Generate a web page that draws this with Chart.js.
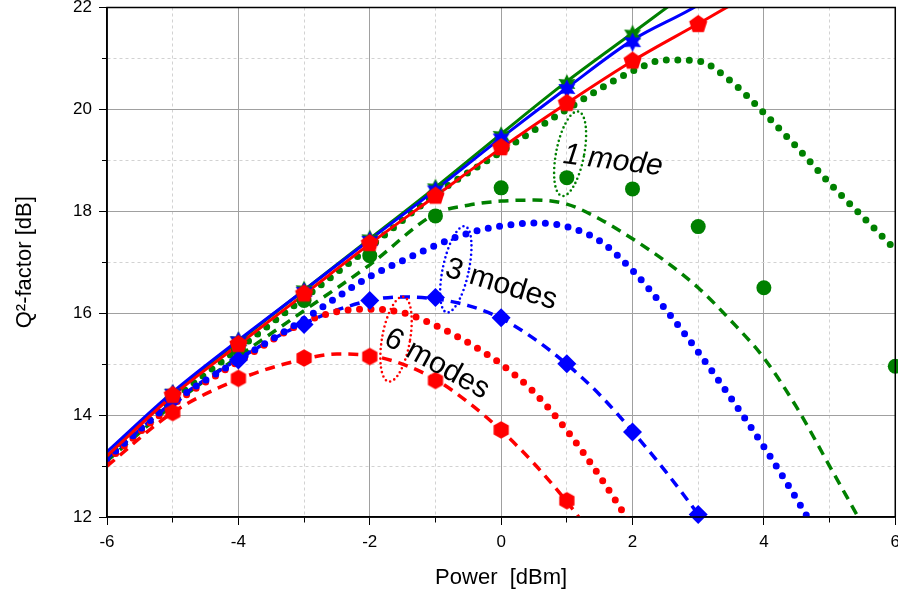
<!DOCTYPE html>
<html>
<head>
<meta charset="utf-8">
<script src="https://cdn.jsdelivr.net/npm/chart.js@4.4.1/dist/chart.umd.min.js"></script>
<style>
  html, body { margin: 0; padding: 0; background: #fff; overflow: hidden; width: 898px; height: 598px; }
  #myChart { display: block; margin-top: -2px; }
</style>
</head>
<body>
<canvas id="myChart" width="907" height="600"></canvas>
<script>
(function () {
  'use strict'

// ---- dados ----
var markX = [-5, -4, -3, -2, -1, 0, 1, 2, 3, 4, 5, 6]

var greenStarY   = [14.42, 15.45, 16.45, 17.45, 18.45, 19.48, 20.5, 21.47, null, null, null, null]
var blueStarY    = [14.42, 15.45, 16.42, 17.42, 18.41, 19.43, 20.4, 21.32, null, null, null, null]
var redPentY     = [14.39, 15.39, 16.38, 17.37, 18.3, 19.25, 20.12, 20.95, 21.67, null, null, null]
var greenCircY   = [14.35, 15.3, 16.25, 17.13, 17.91, 18.46, 18.66, 18.44, 17.7, 16.5, null, 14.96]
var blueDiamY    = [14.3, 15.08, 15.78, 16.25, 16.31, 15.91, 15.01, 13.67, 12.05, null, null, null]
var redHexY      = [14.05, 14.72, 15.12, 15.15, 14.68, 13.71, 12.32, null, null, null, null, null]

var solidX       = [-6, -5, -4, -3, -2, -1, 0, 1, 2, 3, 3.5, 4]
var greenSolidY  = [13.2, 14.42, 15.45, 16.45, 17.46, 18.47, 19.52, 20.55, 21.5, 22.45, 22.9, 23.3]
var blueSolidY   = [13.28, 14.45, 15.47, 16.45, 17.44, 18.42, 19.44, 20.42, 21.36, 22.05, 22.5, 22.9]
var redSolidY    = [13.2, 14.38, 15.38, 16.37, 17.36, 18.3, 19.24, 20.12, 20.95, 21.68, 22.05, 22.4]

var greenDotX    = [-6, -5, -4, -3, -2, -1, 0, 1, 2, 2.5, 3, 3.5, 4, 4.5, 5, 5.5, 6]
var greenDotY    = [13.15, 14.3, 15.3, 16.3, 17.3, 18.33, 19.17, 20.0, 20.75, 20.97, 20.95, 20.55, 19.93, 19.26, 18.55, 17.9, 17.25]

var greenDashX   = [-6, -5, -4, -3, -2, -1, -0.5, 0, 0.5, 1, 1.5, 2, 2.5, 3, 3.5, 4, 4.5, 5, 5.5]
var greenDashY   = [13.1, 14.2, 15.15, 16.05, 16.95, 17.95, 18.12, 18.2, 18.22, 18.14, 17.85, 17.46, 17.02, 16.5, 15.85, 15.12, 14.15, 13.0, 11.85]

var blueDotX     = [-6, -5, -4, -3, -2, -1.5, -1, -0.5, 0, 0.5, 1, 1.5, 2, 2.5, 3, 3.5, 4, 4.5, 4.8]
var blueDotY     = [13.15, 14.25, 15.08, 15.88, 16.72, 17.03, 17.33, 17.57, 17.71, 17.77, 17.7, 17.42, 16.84, 16.08, 15.24, 14.33, 13.38, 12.35, 11.7]

var blueDashX    = [-6, -5, -4, -3, -2, -1.5, -1, -0.5, 0, 0.5, 1, 1.5, 2, 2.5, 3, 3.3]
var blueDashY    = [13.15, 14.25, 15.1, 15.8, 16.25, 16.32, 16.28, 16.15, 15.9, 15.5, 15.0, 14.4, 13.68, 12.9, 12.05, 11.5]

var redDotX      = [-6, -5, -4, -3, -2.5, -2, -1.5, -1, -0.5, 0, 0.5, 1, 1.5, 2]
var redDotY      = [13.1, 14.2, 15.05, 15.82, 16.03, 16.08, 16.01, 15.76, 15.42, 15.0, 14.45, 13.7, 12.8, 11.8]

var redDashX     = [-6, -5, -4, -3, -2.5, -2, -1.5, -1, -0.5, 0, 0.5, 1, 1.3]
var redDashY     = [13.0, 14.05, 14.7, 15.1, 15.2, 15.17, 15.0, 14.7, 14.25, 13.7, 13.05, 12.3, 11.8]

var xTicks = [-6, -4, -2, 0, 2, 4, 6]
var yTicks = [12, 14, 16, 18, 20, 22]

// rotulos e elipses das curvas
var rotulos = [
  { texto: '1 mode', x: 1.7, y: 18.99, ang: 7, cor: '#000', italico: true },
  { texto: '3 modes', x: 0.0, y: 16.56, ang: 17, cor: '#000', italico: false },
  { texto: '6 modes', x: -0.98, y: 15.0, ang: 29, cor: '#000', italico: false }
]
var elipses = [
  { x: 1.05, y: 19.13, rx: 14, ry: 43, rot: 11, cor: '#008000' },
  { x: -0.69, y: 16.86, rx: 13, ry: 44, rot: 12, cor: '#0000ff' },
  { x: -1.6, y: 15.49, rx: 14, ry: 43, rot: 10, cor: '#ff0000' }
]

var VERDE = '#008000', AZUL = '#0000ff', VERMELHO = '#ff0000'

function pares (xs, ys) {
  var out = []
  for (var i = 0; i < xs.length; i++) {
    if (ys[i] !== null && ys[i] !== undefined) out.push({ x: xs[i], y: ys[i] })
  }
  return out
}

// marcadores desenhados em canvas
function poligono (n, r, cor, interno) {
  var c = document.createElement('canvas')
  var s = Math.ceil(2 * r + 2)
  c.width = s; c.height = s
  var g = c.getContext('2d')
  g.fillStyle = cor
  g.beginPath()
  var pts = interno ? n * 2 : n
  for (var i = 0; i < pts; i++) {
    var a = -Math.PI / 2 + i * 2 * Math.PI / pts
    var rr = interno && i % 2 === 1 ? interno : r
    var px = s / 2 + rr * Math.cos(a), py = s / 2 + rr * Math.sin(a)
    if (i === 0) g.moveTo(px, py); else g.lineTo(px, py)
  }
  g.closePath()
  g.fill()
  return c
}

var pentagono = poligono(5, 9.5, VERMELHO)
var hexagono = poligono(6, 8.8, VERMELHO)
var estrelaVerde = poligono(6, 9.8, VERDE, 5.2)
var estrelaAzul = poligono(6, 9.8, AZUL, 5.2)

function marcas (ys, estilo, cor, raio) {
  return {
    data: pares(markX, ys), showLine: false, pointStyle: estilo, pointRadius: raio,
    pointHoverRadius: raio, pointBackgroundColor: cor, pointBorderColor: cor, pointBorderWidth: 0,
    borderColor: cor, backgroundColor: cor, clip: false
  }
}

function curva (xs, ys, cor, tipo) {
  var ds = {
    data: pares(xs, ys), borderColor: cor, backgroundColor: cor, pointRadius: 0, pointHoverRadius: 0,
    fill: false, cubicInterpolationMode: 'monotone', clip: 0
  }
  if (tipo === 'solid') { ds.borderWidth = 3 }
  if (tipo === 'dot') { ds.borderWidth = 7; ds.borderDash = [0, 11.5]; ds.borderCapStyle = 'round' }
  if (tipo === 'dash') { ds.borderWidth = 3.5; ds.borderDash = [10, 7] }
  return ds
}

var plugAnot = {
  id: 'anotacoes',
  afterDatasetsDraw: function (chart) {
    var ctx = chart.ctx, a = chart.chartArea
    var sx = chart.scales.x, sy = chart.scales.y
    ctx.save()
    elipses.forEach(function (e) {
      ctx.beginPath()
      ctx.ellipse(sx.getPixelForValue(e.x), sy.getPixelForValue(e.y), e.rx, e.ry, e.rot * Math.PI / 180, 0, 2 * Math.PI)
      ctx.setLineDash([0, 4.6])
      ctx.lineCap = 'round'
      ctx.lineWidth = 2.6
      ctx.strokeStyle = e.cor
      ctx.stroke()
    })
    ctx.setLineDash([])
    rotulos.forEach(function (t) {
      ctx.save()
      ctx.translate(sx.getPixelForValue(t.x), sy.getPixelForValue(t.y))
      ctx.rotate(t.ang * Math.PI / 180)
      ctx.font = (t.italico ? 'italic ' : '') + '30px "Liberation Sans", Arial, sans-serif'
      ctx.fillStyle = t.cor
      ctx.textAlign = 'center'
      ctx.textBaseline = 'middle'
      ctx.fillText(t.texto, 0, 0)
      ctx.restore()
    })
    ctx.strokeStyle = '#000'
    ctx.lineWidth = 1.5
    ctx.strokeRect(a.left, a.top, a.right - a.left, a.bottom - a.top)
    ctx.restore()
  }
}

function impar (c) { return c.tick && Math.abs(Math.round(c.tick.value)) % 2 === 1 }

var fonteTick = { family: '"Liberation Sans", Arial, sans-serif', size: 17 }
var fonteTitulo = { family: '"Liberation Sans", Arial, sans-serif', size: 22 }

const ctx = document.getElementById('myChart').getContext('2d')

new Chart(ctx, {
  type: 'line',
  data: {
    datasets: [
      marcas(redPentY, pentagono, VERMELHO, 9),
      marcas(blueStarY, estrelaAzul, AZUL, 9),
      marcas(greenStarY, estrelaVerde, VERDE, 9),
      marcas(redHexY, hexagono, VERMELHO, 9),
      marcas(blueDiamY, 'rectRot', AZUL, 9.5),
      marcas(greenCircY, 'circle', VERDE, 7.5),
      curva(solidX, redSolidY, VERMELHO, 'solid'),
      curva(solidX, blueSolidY, AZUL, 'solid'),
      curva(solidX, greenSolidY, VERDE, 'solid'),
      curva(blueDotX, blueDotY, AZUL, 'dot'),
      curva(redDotX, redDotY, VERMELHO, 'dot'),
      curva(greenDotX, greenDotY, VERDE, 'dot'),
      curva(redDashX, redDashY, VERMELHO, 'dash'),
      curva(blueDashX, blueDashY, AZUL, 'dash'),
      curva(greenDashX, greenDashY, VERDE, 'dash')
    ]
  },
  options: {
    responsive: false,
    animation: false,
    events: [],
    layout: { padding: { top: 4, right: 0, left: 0, bottom: 0 } },
    plugins: { legend: { display: false }, tooltip: { enabled: false } },
    scales: {
      x: {
        type: 'linear', min: -6, max: 6,
        ticks: {
          stepSize: 1, autoSkip: false, maxRotation: 0, color: '#000', font: fonteTick, padding: 7,
          callback: function (v) { return xTicks.indexOf(v) >= 0 ? String(v) : '' }
        },
        grid: {
          color: function (c) { return impar(c) ? '#d2d2d2' : '#a0a0a0' },
          tickColor: '#000', tickLength: 8,
          tickBorderDash: function (c) { return impar(c) ? [5, 20] : [] }
        },
        border: { color: '#000', width: 1.5, dash: function (c) { return impar(c) ? [3, 3] : [] } },
        title: { display: true, text: 'Power  [dBm]', color: '#000', font: fonteTitulo, padding: { top: 0, bottom: 7 } },
        afterFit: function (s) { s.height = 81 }
      },
      y: {
        type: 'linear', min: 12, max: 22,
        ticks: {
          stepSize: 1, autoSkip: false, color: '#000', font: fonteTick, padding: 7,
          callback: function (v) { return yTicks.indexOf(v) >= 0 ? String(v) : '' }
        },
        grid: {
          color: function (c) { return impar(c) ? '#d2d2d2' : '#a0a0a0' },
          tickColor: '#000', tickLength: 8,
          tickBorderDash: function (c) { return impar(c) ? [0, 3, 5, 20] : [] }
        },
        border: { color: '#000', width: 1.5, dash: function (c) { return impar(c) ? [3, 3] : [] } },
        title: { display: true, text: 'Q²-factor [dB]', color: '#000', font: fonteTitulo, padding: { top: 12, bottom: 0 } },
        afterFit: function (s) { s.width = 107; s.paddingTop = 0; s.paddingBottom = 0 }
      }
    }
  },
  plugins: [plugAnot]
})

})()
</script>
</body>
</html>
